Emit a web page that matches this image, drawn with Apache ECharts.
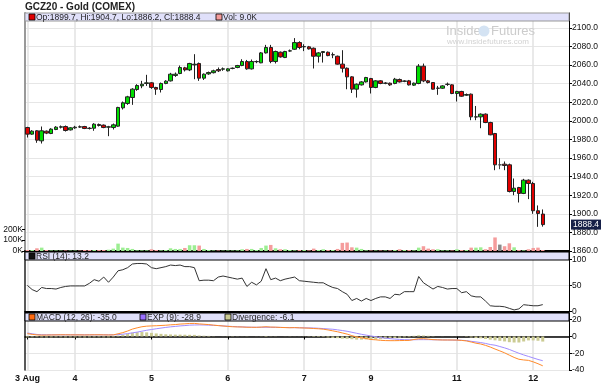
<!DOCTYPE html>
<html><head><meta charset="utf-8">
<script src="https://cdn.jsdelivr.net/npm/echarts@6/dist/echarts.min.js"></script>
<style>html,body{margin:0;padding:0;background:#fff}#c{width:602px;height:383px}</style>
</head><body><div id="c"></div>
<script>
const chartTitle = 'GCZ20 - Gold (COMEX)';
const slotCount = 114;
const dayLabelIdx = [0,10,26,42,58,72,90,106];
const dayLabelText = ['3 Aug','4','5','6','7','9','11','12'];
const priceTicks = {min:1860, max:2116, step:20};
const volTickValues = [0,100,200];
const rsiTicks = {min:0, max:114, step:50};
const macdTicks = {min:-40, max:28, step:20};

const open = [1992.8,1985.7,1989.3,1978.5,1988.9,1986.4,1990.7,1993.2,1993.9,1990.3,
1992.5,1993.6,1993.9,1992.1,1992.1,1996.1,1995.4,1993.2,1992.8,1994.3,
2014.0,2018.7,2025.1,2033.7,2037.6,2040.2,2040.9,2035.9,2033.7,2040.2,
2043.0,2048.8,2050.9,2057.0,2054.8,2060.2,2061.7,2045.9,2050.5,2051.8,
2055.2,2055.6,2053.8,2056.4,2057.4,2059.5,2063.8,2055.9,2063.6,2062.4,
2073.1,2078.9,2063.8,2073.8,2068.1,2075.1,2077.0,2084.2,2079.6,2079.6,
2078.1,2069.5,2073.5,2073.8,2071.0,2069.5,2061.0,2056.6,2047.3,2034.1,
2038.7,2041.9,2045.5,2035.9,2043.0,2040.4,2040.5,2040.2,2044.5,2042.5,
2043.0,2038.4,2040.2,2058.8,2043.0,2041.2,2035.0,2035.1,2039.2,2038.7,
2029.4,2031.6,2027.6,2028.7,2004.1,2004.3,2007.2,1998.2,1986.4,1952.7,
1953.4,1952.7,1924.0,1928.3,1921.9,1936.2,1932.6,1903.3,1899.7];
const close = [1985.7,1988.9,1979.2,1989.3,1986.8,1991.1,1993.2,1993.6,1989.6,1992.5,
1993.2,1993.3,1991.8,1991.8,1996.4,1995.0,1992.8,1993.6,1995.7,2014.4,
2019.4,2025.8,2034.1,2038.0,2039.4,2040.9,2035.9,2034.1,2040.2,2042.7,
2050.2,2050.2,2057.4,2054.8,2061.7,2060.9,2045.9,2050.2,2052.0,2053.8,
2053.8,2055.9,2055.9,2056.6,2059.5,2063.8,2055.9,2063.8,2063.8,2073.1,
2078.9,2063.8,2074.6,2068.8,2074.6,2075.3,2084.2,2078.9,2079.9,2077.4,
2069.5,2073.1,2074.5,2070.2,2071.2,2061.0,2056.6,2047.3,2034.1,2039.4,
2041.9,2046.6,2035.9,2043.0,2040.2,2040.6,2038.7,2044.8,2041.9,2042.9,
2038.7,2040.5,2058.8,2043.0,2041.2,2034.1,2035.2,2037.6,2039.4,2029.4,
2031.6,2026.5,2028.3,2004.3,2004.3,2007.2,1998.2,1985.0,1952.7,1952.7,
1952.0,1924.0,1927.6,1921.9,1936.2,1932.6,1903.3,1900.4,1888.4];
const low = [1982.1,1985.0,1976.4,1975.6,1985.7,1985.7,1990.0,1991.8,1988.5,1989.6,
1991.4,1992.5,1991.1,1990.7,1989.3,1993.9,1992.1,1983.5,1990.7,1993.6,
2012.2,2017.2,2017.2,2032.3,2035.1,2037.6,2034.4,2028.0,2030.5,2039.4,
2042.3,2047.3,2050.2,2053.1,2053.5,2044.8,2043.0,2044.0,2049.5,2051.0,
2052.5,2053.8,2053.1,2055.5,2056.6,2058.8,2055.0,2055.2,2062.0,2062.0,
2072.4,2062.0,2061.7,2068.0,2067.5,2074.4,2076.3,2077.0,2075.0,2076.7,
2056.3,2062.7,2062.7,2069.5,2067.4,2060.5,2052.0,2034.0,2030.0,2025.0,
2038.0,2041.2,2029.4,2035.1,2039.4,2039.4,2037.6,2039.4,2041.2,2041.6,
2038.0,2037.6,2039.4,2041.6,2040.2,2033.7,2028.0,2034.4,2037.6,2028.7,
2020.8,2025.8,2026.9,2000.7,2000.7,1992.1,1997.5,1984.5,1946.9,1948.0,
1946.9,1923.0,1920.0,1912.2,1921.2,1915.8,1900.0,1886.0,1886.2];
const high = [1993.6,1990.0,1990.0,1993.9,1989.6,1992.1,1994.3,1995.0,1995.0,1993.2,
1994.6,1995.0,1994.6,1993.2,1997.5,1997.1,1996.1,1994.6,1997.1,2015.1,
2020.8,2026.9,2035.1,2039.4,2043.0,2049.5,2041.6,2036.6,2041.2,2043.7,
2051.6,2052.0,2059.5,2058.1,2062.4,2071.7,2062.7,2051.0,2053.0,2055.0,
2057.4,2057.4,2056.6,2057.4,2060.2,2066.3,2065.5,2066.0,2065.0,2074.0,
2081.7,2081.7,2075.5,2074.6,2075.3,2076.7,2089.0,2085.6,2082.4,2080.6,
2078.9,2074.0,2075.0,2074.6,2073.5,2070.2,2076.0,2057.4,2048.0,2040.2,
2042.7,2047.3,2046.2,2043.7,2043.7,2041.6,2041.2,2046.2,2045.5,2043.7,
2044.0,2041.2,2061.0,2061.6,2044.0,2041.6,2037.6,2038.4,2041.2,2039.4,
2032.3,2032.3,2029.4,2029.4,2016.0,2008.0,2008.0,1999.0,1987.0,1959.9,
1956.3,1954.0,1938.0,1929.0,1937.6,1937.0,1934.4,1909.0,1904.7];
const volumeK = [9,9,25,31,9,5,5,4,5,4, 4,4,9,9,9,9,9,12,22,68,
31,28,19,6,6,6,16,9,6,9, 25,19,19,28,53,53,50,19,9,5,
5,4,5,5,6,16,19,19,9,28, 50,56,25,16,16,9,6,9,9,6,
22,9,16,9,9,19,75,78,34,31, 19,6,5,5,5,5,6,9,16,9,
9,6,31,44,22,16,16,6,6,5, 16,9,9,31,31,34,16,37,125,59,
44,71,34,9,6,16,28,31,9];
const rsi14 = [50,42,38,46,44,44,43,46,48,49, 49,49,49,54,61,58,66,56,66,78,
80,84,91,92,92,91,84,82,84,86, 89,88,89,86,86,84,59,60,60,59,
66,68,66,64,62,64,48,56,51,58, 82,61,64,59,62,64,66,59,58,57,
56,55,55,50,46,44,38,33,21,25, 20,25,21,25,28,28,25,33,32,38,
38,38,67,55,49,43,48,46,43,44, 44,36,38,30,28,28,20,11,10,10,
9,6,3,5,13,12,11,11,13.2];
const macdLine = [3.4,2.5,1.9,1.6,1.7,1.8,1.9,2.0,2.0,1.9, 1.9,1.9,1.8,1.9,2.0,2.0,1.9,1.8,1.9,3.2,
4.6,6.5,8.8,10.3,11.6,12.3,12.6,12.8,13.1,13.4, 13.9,14.2,14.8,15.1,15.5,15.6,15.0,14.6,14.2,13.5,
13.0,12.5,12.0,11.6,11.4,11.3,11.0,11.0,10.9,11.2, 11.6,11.2,11.1,10.8,10.6,10.4,10.6,10.3,10.1,9.9,
9.5,9.2,8.7,7.8,6.7,5.6,4.2,2.8,1.0,-0.6, -1.6,-2.4,-3.6,-4.0,-4.6,-4.9,-5.0,-5.0,-4.9,-4.8,
-4.7,-3.6,-2.8,-2.7,-3.2,-3.8,-4.0,-4.2,-4.2,-4.2, -4.3,-4.7,-5.3,-6.6,-8.0,-9.0,-10.6,-12.6,-15.0,-17.2,
-19.5,-22.3,-25.0,-27.2,-28.0,-28.5,-30.3,-32.5,-35.0];
const expLine = [4.2,3.2,2.4,2.1,2.0,2.0,2.0,2.0,2.0,2.0, 2.0,2.0,2.0,2.0,2.0,2.0,2.0,2.0,2.0,2.2,
2.7,3.4,4.3,5.2,6.3,7.4,8.3,9.2,10.0,10.8, 11.5,12.0,12.6,13.0,13.5,13.7,13.8,13.7,13.5,13.3,
13.0,12.6,12.2,11.9,11.6,11.4,11.2,11.0,11.0,11.0, 11.0,11.0,10.9,10.8,10.7,10.6,10.5,10.4,10.3,10.2,
10.1,9.8,9.4,9.0,8.6,7.9,7.1,6.2,5.0,3.8, 2.6,1.6,0.6,-0.3,-1.4,-2.0,-2.6,-3.1,-3.5,-3.8,
-3.9,-3.9,-3.8,-3.8,-3.8,-3.9,-4.0,-4.1,-4.2,-4.3, -4.4,-4.6,-4.9,-5.8,-6.5,-7.3,-8.3,-9.6,-10.4,-12.0,
-13.6,-15.5,-17.8,-20.0,-22.0,-23.8,-25.6,-27.4,-28.9];
const divergence = [-1.0,-0.9,-0.8,-1.0,-1.1,-1.0,-0.9,-0.9,-1.0,-1.0, -1.0,-1.0,-1.1,-1.0,-0.9,-0.9,-1.0,-1.0,-0.8,1.0,
1.9,3.1,4.5,5.1,5.3,4.9,4.3,3.6,3.1,2.6, 2.4,2.2,2.2,2.1,2.0,1.9,1.2,0.9,0.7,0.2,
0,-0.1,-0.2,-0.3,-0.2,-0.1,-0.2,0,-0.1,0.2, 0.6,0.2,0.2,0,-0.1,-0.2,0.1,-0.1,-0.2,-0.3,
-0.6,-0.6,-0.7,-1.2,-1.7,-2.0,-2.6,-2.8,-3.3,-3.8, -3.8,-3.6,-4.0,-3.5,-3.2,-2.9,-2.4,-1.9,-1.4,-1.0,
-0.8,0.8,1.5,1.2,0.8,0.3,0,-0.1,0,0.1, 0.1,-0.1,-0.4,-1.2,-1.9,-2.2,-3.0,-3.8,-4.6,-5.2,
-5.9,-6.8,-7.2,-7.2,-6.0,-4.7,-4.7,-5.1,-6.1];

const categories = Array.from({length: slotCount}, (_, i) => String(i));
const last = close.length - 1;
const FONT = '"Liberation Sans", Arial, sans-serif';
const gridL = 25, gridR = 33, plotW = 602 - gridL - gridR;
const grids = [{top:13, height:238}, {top:252, height:59.5}, {top:313, height:59}];

const upCol = '#00dd00', dnCol = '#e00000';
const volColors = volumeK.map((v, i) => close[i] > open[i] ? '#9cee92' : (close[i] < open[i] ? '#f59c9c' : '#8a8a8a'));

function xAx(gi, showLabels) {
  return {
    type: 'category', gridIndex: gi, data: categories, boundaryGap: true,
    axisLine: {show: true, lineStyle: {color: '#000', width: gi === 2 ? 1.5 : 2}},
    axisTick: {show: showLabels, alignWithLabel: true, length: 3, interval: (i) => dayLabelIdx.includes(i), lineStyle: {color: '#000'}},
    axisLabel: {show: showLabels, interval: (i) => dayLabelIdx.includes(i), margin: 4,
      formatter: (v, i) => { const k = dayLabelIdx.indexOf(i); return k >= 0 ? dayLabelText[k] : ''; },
      fontSize: 9, fontWeight: 'bold', color: '#111', fontFamily: FONT},
    splitLine: {show: true, alignWithLabel: true, interval: (i) => dayLabelIdx.includes(i), lineStyle: {color: '#e2e2e2', width: 1.5}}
  };
}
function rightY(gi, t, fmt) {
  return {
    type: 'value', gridIndex: gi, position: 'right', min: t.min, max: t.max, interval: t.step,
    axisLine: {show: true, lineStyle: {color: '#000', width: 1}},
    axisTick: {show: true, length: 3, lineStyle: {color: '#000'}},
    axisLabel: {fontSize: 8.5, color: '#111', margin: 3, fontFamily: FONT, showMaxLabel: false, formatter: fmt},
    splitLine: {show: true, lineStyle: {color: '#e6e6e6', width: 1}}
  };
}
function leftDummy(gi, t) {
  return {type: 'value', gridIndex: gi, position: 'left', min: t.min, max: t.max,
    axisLine: {show: true, lineStyle: {color: '#222', width: 1.5}}, axisTick: {show: false},
    axisLabel: {show: false}, splitLine: {show: false}};
}

function band(gi, stroke) {
  return {type: 'rect', z: 50, shape: {x: gridL, y: grids[gi].top, width: plotW, height: 8},
    style: {fill: '#e0e0fa', stroke: stroke, lineWidth: 1}};
}
function swatch(x, y, color) {
  return {type: 'rect', z: 60, shape: {x: x, y: y, width: 6, height: 6}, style: {fill: color, stroke: '#000', lineWidth: 0.8}};
}
function label(x, y, text) {
  return {type: 'text', z: 60, x: x, y: y, style: {text: text, font: '8.5px ' + FONT, fill: '#222', textVerticalAlign: 'middle'}};
}
const f1 = (v) => v.toFixed(1);
const ohlcText = `Op:${f1(open[last])}, Hi:${f1(high[last])}, Lo:${f1(low[last])}, Cl:${f1(close[last])}`;

const option = {
  animation: false,
  backgroundColor: '#fff',
  grid: grids.map(g => ({left: gridL, right: gridR, top: g.top, height: g.height})),
  xAxis: [xAx(0, false), xAx(1, false), xAx(2, true)],
  yAxis: [
    rightY(0, priceTicks, (v) => v.toFixed(1)),
    {type: 'value', gridIndex: 0, position: 'left', min: 0, max: 2194,
      axisLine: {show: true, lineStyle: {color: '#999', width: 2}},
      axisTick: {show: true, length: 3, customValues: volTickValues, lineStyle: {color: '#000'}},
      axisLabel: {customValues: volTickValues, formatter: (v) => v + 'K', fontSize: 8.5, color: '#111', margin: 2, fontFamily: FONT},
      splitLine: {show: false}},
    rightY(1, rsiTicks, (v) => String(v)),
    leftDummy(1, rsiTicks),
    rightY(2, macdTicks, (v) => String(v)),
    leftDummy(2, macdTicks)
  ],
  series: [
    {type: 'bar', name: 'Volume', xAxisIndex: 0, yAxisIndex: 1, barWidth: 3.5, z: 1,
      data: volumeK.map((v, i) => ({value: v, itemStyle: {color: volColors[i]}}))},
    {type: 'candlestick', name: 'OHLC', xAxisIndex: 0, yAxisIndex: 0, barWidth: 4, z: 3,
      data: open.map((o, i) => [o, close[i], low[i], high[i]]),
      itemStyle: {color: upCol, color0: dnCol, borderColor: '#222', borderColor0: '#222', borderColorDoji: '#444', borderWidth: 1},
      markLine: {silent: true, symbol: 'none', animation: false,
        lineStyle: {color: 'rgba(0,0,0,0)', width: 0},
        label: {show: true, position: 'end', formatter: f1(close[last]), color: '#fff', backgroundColor: '#162048',
          fontSize: 8.5, fontFamily: FONT, padding: [1, 2, 0, 2], distance: 2},
        data: [{yAxis: close[last]}]}},
    {type: 'line', name: 'RSI', xAxisIndex: 1, yAxisIndex: 2, data: rsi14, showSymbol: false,
      lineStyle: {color: '#333', width: 1}},
    {type: 'bar', name: 'Divergence', xAxisIndex: 2, yAxisIndex: 4, data: divergence, barWidth: 3,
      itemStyle: {color: '#cbcb93'}},
    {type: 'line', name: 'EXP', xAxisIndex: 2, yAxisIndex: 4, data: expLine, showSymbol: false,
      lineStyle: {color: '#a08cff', width: 1}},
    {type: 'line', name: 'MACD', xAxisIndex: 2, yAxisIndex: 4, data: macdLine, showSymbol: false,
      lineStyle: {color: '#ff8a2a', width: 1}}
  ],
  graphic: [
    {type: 'text', x: 25, y: 2, style: {text: chartTitle, font: 'bold 10px ' + FONT, fill: '#222'}},
    {type: 'text', x: 446, y: 25, z: 5, style: {text: 'Inside', font: '13px ' + FONT, fill: '#cccccc'}},
    {type: 'circle', z: 5, shape: {cx: 484, cy: 31, r: 5.5}, style: {fill: '#d4e3f3'}},
    {type: 'text', x: 491, y: 25, z: 5, style: {text: 'Futures', font: '13px ' + FONT, fill: '#cccccc'}},
    {type: 'text', x: 447, y: 38, z: 5, style: {text: 'www.insidefutures.com', font: '8px ' + FONT, fill: '#d2d2d2'}},
    band(0, '#999'), band(1, '#000'), band(2, '#000'),
    swatch(29, 14, dnCol), label(36, 17.5, ohlcText),
    swatch(216, 14, '#f59c9c'), label(223, 17.5, `Vol: ${f1(volumeK[last])}K`),
    swatch(29, 253, '#111'), label(36, 256.5, `RSI (14): ${f1(rsi14[last])}`),
    swatch(29, 314, '#ff6a10'), label(36, 317.5, `MACD (12, 26): ${f1(macdLine[last])}`),
    swatch(140, 314, '#9a70ff'), label(147, 317.5, `EXP (9): ${f1(expLine[last])}`),
    swatch(225, 314, '#cbcb93'), label(232, 317.5, `Divergence: ${f1(divergence[last])}`)
  ]
};
const chart = echarts.init(document.getElementById('c'), null, {renderer: 'canvas'});
chart.setOption(option);
</script></body></html>
